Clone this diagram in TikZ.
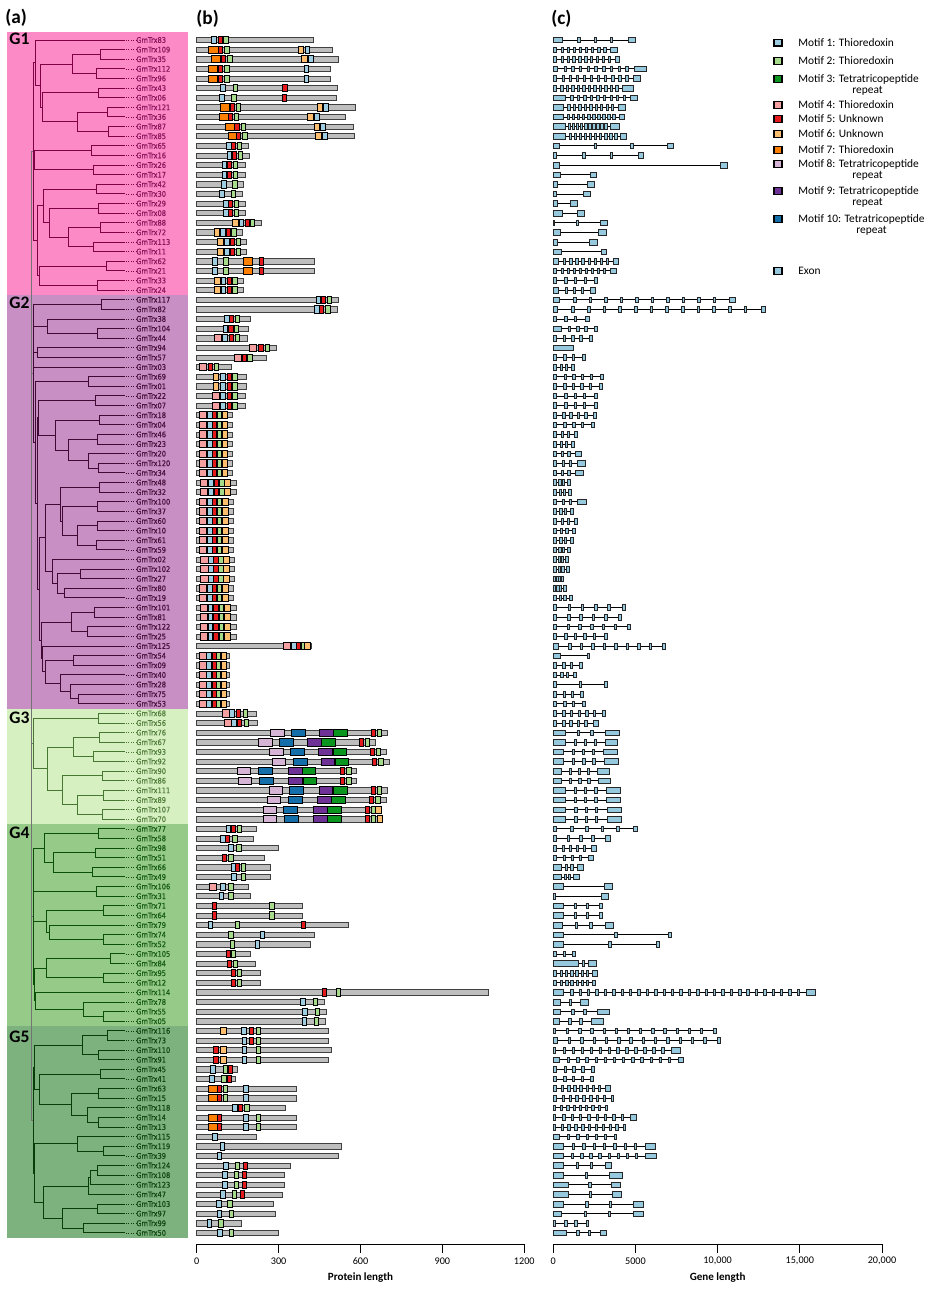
\documentclass[tikz,border=0pt]{standalone}
\usepackage{fontspec}
\setmainfont{Carlito}
\newfontfamily\leaffont[FakeStretch=0.86,FakeBold=0.5]{DejaVu Sans}
\usetikzlibrary{positioning}

% group bands, tree lines, leaf text
\definecolor{gone}{RGB}{251,138,199}
\definecolor{gtwo}{RGB}{200,143,196}
\definecolor{gthree}{RGB}{215,240,193}
\definecolor{gfour}{RGB}{150,202,136}
\definecolor{gfive}{RGB}{125,178,126}
\definecolor{lone}{RGB}{128,0,70}
\definecolor{ltwo}{RGB}{62,10,52}
\definecolor{lthree}{RGB}{70,120,50}
\definecolor{lfour}{RGB}{10,80,10}
\definecolor{lfive}{RGB}{10,60,10}
\definecolor{tone}{RGB}{140,20,90}
\definecolor{ttwo}{RGB}{70,15,60}
\definecolor{tthree}{RGB}{80,125,60}
\definecolor{tfour}{RGB}{20,90,20}
\definecolor{tfive}{RGB}{15,70,15}
% motifs
\definecolor{m1}{RGB}{158,205,226}
\definecolor{m2}{RGB}{166,219,140}
\definecolor{m3}{RGB}{10,150,30}
\definecolor{m4}{RGB}{245,160,160}
\definecolor{m5}{RGB}{228,26,28}
\definecolor{m6}{RGB}{253,191,111}
\definecolor{m7}{RGB}{255,127,0}
\definecolor{m8}{RGB}{214,180,214}
\definecolor{m9}{RGB}{110,50,150}
\definecolor{m10}{RGB}{20,110,170}
\definecolor{exonb}{RGB}{150,200,222}
\definecolor{barg}{RGB}{190,190,190}

% clade: node at x=#1, child (#3,row #2) and child (#5,row #4)
\newcommand{\cl}[5]{\draw[tree] (#3,{40+9.62*(#2)}) -| (#1,{40+9.62*(#4)}) -- (#5,{40+9.62*(#4)});}
% pair of leaves at rows #2, #2+1 joined at x=#1
\newcommand{\lp}[2]{\cl{#1}{#2}{125}{#2+1}{125}}
\newcommand{\br}[3]{\draw[tree] (#1,{40+9.62*(#2)}) -- (#3,{40+9.62*(#2)});}
\newcommand{\vl}[3]{\draw[tree] (#1,{40+9.62*(#2)}) -- (#1,{40+9.62*(#3)});}
\newcommand{\legkey}[4]{%
  \draw[key, fill=#2] (774,{#3-3.3}) rectangle (782,{#3+3.3});
  \node[keytext] (#1) at (798,#3) {#4};}

\begin{document}
\begin{tikzpicture}[x=0.02cm, y=-0.02cm,
    tree/.style={line width=0.55pt},
    leaf/.style={anchor=west, inner sep=0pt, font=\leaffont\fontsize{4.4}{5}\selectfont},
    grp/.style={anchor=west, inner sep=0pt, font=\bfseries\fontsize{10}{12}\selectfont},
    panel/.style={anchor=west, inner sep=0pt, font=\bfseries\fontsize{11}{13}\selectfont},
    bar/.style={draw=black!75, fill=barg, line width=0.35pt},
    mot/.style={draw=black, line width=0.4pt},
    exon/.style={draw=black!85, fill=exonb, line width=0.35pt},
    intron/.style={line width=0.45pt},
    key/.style={draw=black, line width=0.7pt},
    keytext/.style={anchor=west, inner sep=0pt, font=\fontsize{6.5}{8}\selectfont},
    ticklab/.style={inner sep=0pt, font=\fontsize{5.8}{7}\selectfont},
    axtitle/.style={inner sep=0pt, font=\bfseries\fontsize{6.3}{8}\selectfont},
  ]
  \useasboundingbox (0,0) rectangle (937,1289);

  % group bands
  \fill[gone] (7,32) rectangle (188,295);
  \fill[gtwo] (7,295) rectangle (188,708.6);
  \fill[gthree] (7,708.6) rectangle (188,824);
  \fill[gfour] (7,824) rectangle (188,1026);
  \fill[gfive] (7,1026) rectangle (188,1238);

  \node[panel] (pa) at (5,18) {(a)};
  \node[panel] (pb) at (196,19) {(b)};
  \node[panel] (pc) at (551,19) {(c)};
  \node[grp] (G1) at (9,39) {G1};
  \node[grp] (G2) at (9,303) {G2};
  \node[grp] (G3) at (9,718) {G3};
  \node[grp] (G4) at (9,833) {G4};
  \node[grp] (G5) at (9,1037) {G5};

  % root
  \begin{scope}[color=black!55]
    \vl{31}{11.6}{112.28}
    \br{31}{11.6}{33} \br{31}{34.67}{33} \br{31}{73.125}{33} \br{31}{91.1}{33} \br{31}{112.28}{33}
  \end{scope}

  % G1
  \begin{scope}[color=lone]
    \lp{100}{1} \lp{96}{3} \cl{72}{1.5}{100}{3.5}{96}
    \lp{98}{5} \lp{107}{7} \lp{108}{9} \cl{77}{7.5}{107}{9.5}{108} \cl{42}{5.5}{98}{8.5}{77}
    \cl{40}{2.5}{72}{7}{42} \cl{35}{0}{125}{4.75}{40}
    \lp{91}{11} \lp{93}{13} \cl{34}{11.5}{91}{13.5}{93}
    \lp{96}{15} \lp{98}{17} \lp{100}{19} \lp{93}{21}
    \cl{68}{19.5}{100}{21.5}{93} \cl{49}{17.5}{98}{20.5}{68} \cl{43}{15.5}{96}{19}{49}
    \lp{106}{23} \lp{97}{25} \cl{39}{23.5}{106}{25.5}{97} \cl{37}{17.25}{43}{24.5}{39}
    \vl{33}{2.375}{20.875} \br{33}{2.375}{35} \br{33}{12.5}{34} \br{33}{20.875}{37}
    \foreach \nm [count=\i from 0] in {83,109,35,112,96,43,06,121,36,87,85,65,16,26,17,42,30,29,08,88,72,113,11,62,21,33,24}{
      \node[leaf, text=tone] (t\nm) at (136,{40+9.62*\i}) {GmTrx\nm};
      \draw[densely dotted, line width=0.4pt] (126,{40+9.62*\i}) -- (t\nm.west);
    }
  \end{scope}

  % G2
  \begin{scope}[color=ltwo]
    \lp{101}{27}
    \lp{97}{30} \cl{47}{29}{125}{30.5}{97}
    \lp{37}{32}
    \lp{88}{35}
    \lp{95}{37}
    \lp{99}{39} \lp{97}{41} \lp{98}{44}
    \cl{88}{43}{125}{44.5}{98} \cl{68}{41.5}{97}{43.75}{88} \cl{55}{39.5}{99}{42.625}{68}
    \cl{38}{37.5}{95}{41.06}{55}
    \lp{99}{46} \lp{97}{48} \lp{97}{50} \lp{96}{52}
    \cl{77}{50.5}{97}{52.5}{96} \cl{62}{48.5}{97}{51.5}{77} \cl{60}{46.5}{99}{50}{62}
    \lp{80}{55} \lp{64}{57} \cl{57}{55.5}{80}{57.5}{64} \cl{52}{54}{125}{56.5}{57}
    \cl{45}{48.25}{60}{55.25}{52}
    \lp{94}{59} \lp{87}{61} \cl{71}{59.5}{94}{61.5}{87}
    \lp{73}{64} \lp{78}{68} \cl{70}{67}{125}{68.5}{78} \cl{60}{66}{125}{67.75}{70}
    \cl{45}{64.5}{73}{66.875}{60} \cl{42}{63}{125}{65.69}{45}
    \cl{41}{60.5}{71}{64.34}{42}
    \cl{39}{51.75}{45}{62.42}{41}
    \cl{37}{39.28}{38}{57.085}{39}
    \cl{35}{35.5}{88}{48.18}{37}
    \vl{33}{27.5}{41.84} \br{33}{27.5}{101} \br{33}{29.75}{47} \br{33}{32.5}{37} \br{33}{34}{125} \br{33}{41.84}{35}
    \foreach \nm [count=\i from 27] in {117,82,38,104,44,94,57,03,69,01,22,07,18,04,46,23,20,120,34,48,32,100,37,60,10,61,59,02,102,27,80,19,101,81,122,25,125,54,09,40,28,75,53}{
      \node[leaf, text=ttwo] (t\nm) at (136,{40+9.62*\i}) {GmTrx\nm};
      \draw[densely dotted, line width=0.4pt] (126,{40+9.62*\i}) -- (t\nm.west);
    }
  \end{scope}

  % G3
  \begin{scope}[color=lthree]
    \lp{98}{70} \lp{99}{72} \lp{93}{74} \cl{73}{72.5}{99}{74.5}{93}
    \lp{102}{76} \lp{103}{78} \lp{102}{80} \cl{77}{78.5}{103}{80.5}{102} \cl{62}{76.5}{102}{79.5}{77}
    \cl{47}{73.5}{73}{78}{62}
    \cl{33}{70.5}{98}{75.75}{47}
    \foreach \nm [count=\i from 70] in {68,56,76,67,93,92,90,86,111,89,107,70}{
      \node[leaf, text=tthree] (t\nm) at (136,{40+9.62*\i}) {GmTrx\nm};
      \draw[densely dotted, line width=0.4pt] (126,{40+9.62*\i}) -- (t\nm.west);
    }
  \end{scope}

  % G4
  \begin{scope}[color=lfour]
    \lp{98}{82} \lp{95}{84} \lp{92}{86} \cl{53}{84.5}{95}{86.5}{92} \cl{44}{82.5}{98}{85.5}{53}
    \lp{96}{88}
    \lp{103}{90} \lp{103}{93} \cl{49}{92}{125}{93.5}{103} \cl{46}{90.5}{103}{92.75}{49}
    \lp{110}{95} \lp{103}{97} \cl{46}{95.5}{110}{97.5}{103}
    \lp{103}{101} \cl{83}{100}{125}{101.5}{103} \cl{35}{99}{125}{100.75}{83}
    \cl{34}{96.5}{46}{99.875}{35}
    \vl{33}{84}{98.19} \br{33}{84}{44} \br{33}{88.5}{96} \br{33}{91.625}{46} \br{33}{98.19}{34}
    \foreach \nm [count=\i from 82] in {77,58,98,51,66,49,106,31,71,64,79,74,52,105,84,95,12,114,78,55,05}{
      \node[leaf, text=tfour] (t\nm) at (136,{40+9.62*\i}) {GmTrx\nm};
      \draw[densely dotted, line width=0.4pt] (126,{40+9.62*\i}) -- (t\nm.west);
    }
  \end{scope}

  % G5
  \begin{scope}[color=lfive]
    \lp{107}{103} \lp{98}{105} \cl{82}{103.5}{107}{105.5}{98}
    \lp{100}{107} \lp{98}{109} \lp{98}{112} \cl{87}{111}{125}{112.5}{98}
    \cl{71}{109.5}{98}{111.75}{87} \cl{39}{107.5}{100}{110.625}{71}
    \cl{34}{104.5}{82}{109.06}{39}
    \lp{103}{115} \cl{77}{114}{125}{115.5}{103}
    \lp{97}{117} \cl{90}{117.5}{97}{119}{125} \cl{88}{118.25}{90}{120}{125}
    \lp{97}{121} \lp{83}{123} \cl{62}{121.5}{97}{123.5}{83}
    \cl{43}{119.125}{88}{122.5}{62}
    \cl{34}{114.75}{77}{120.81}{43}
    \cl{33}{106.78}{34}{117.78}{34}
    \foreach \nm [count=\i from 103] in {116,73,110,91,45,41,63,15,118,14,13,115,119,39,124,108,123,47,103,97,99,50}{
      \node[leaf, text=tfive] (t\nm) at (136,{40+9.62*\i}) {GmTrx\nm};
      \draw[densely dotted, line width=0.4pt] (126,{40+9.62*\i}) -- (t\nm.west);
    }
  \end{scope}

  % (b) protein length and motifs: row/length/{position/motif}
  \foreach \rw/\len/\mots in {
      0/428/{63/1,86/5,107/2}, 1/496/{61/7,86/5,110/2,382/6,405/1}, 2/518/{71/7,98/5,122/2,394/6,417/1},
      3/489/{58/7,86/5,110/2,402/1}, 4/489/{58/7,86/5,110/2,402/1}, 5/514/{96/1,141/2,323/5},
      6/511/{92/1,136/2,320/5}, 7/580/{104/7,129/5,152/2,451/6,472/1}, 8/543/{100/7,124/5,146/2,416/6,439/1},
      9/572/{123/7,147/5,170/2,440/6,461/1}, 10/576/{134/7,154/5,176/2,445/6,469/1},
      11/189/{117/1,135/5,157/2}, 12/193/{119/1,139/5,160/2}, 13/178/{101/1,120/5,142/2},
      14/178/{101/1,120/5,142/2}, 15/171/{99/1,140/2}, 16/167/{93/1,135/2},
      17/178/{106/1,124/5,146/2}, 18/178/{106/1,124/5,146/2}, 19/236/{142/6,164/1,184/5,205/2},
      20/167/{73/6,96/1,117/5,136/2}, 21/182/{87/6,110/1,129/5,152/2}, 22/182/{87/6,110/1,129/5,152/2},
      23/431/{66/1,107/2,188/7,236/5}, 24/431/{66/1,107/2,188/7,236/5},
      25/171/{76/6,98/1,118/5,140/2}, 26/171/{76/6,98/1,118/5,140/2},
      27/520/{445/1,463/5,486/2}, 28/516/{440/1,458/5,480/2},
      29/195/{110/1,128/5,150/2}, 30/190/{105/1,125/5,146/2}, 31/185/{78/4,103/1,128/5,150/2},
      32/290/{205/4,235/5,258/2}, 33/255/{150/4,175/5,195/2}, 34/125/{22/4,50/5,72/2},
      35/180/{70/6,95/1,118/5,140/2}, 36/180/{70/6,95/1,118/5,140/2},
      37/178/{70/4,95/1,118/5,140/2}, 38/178/{70/4,95/1,118/5,140/2},
      39/132/{22/4,47/1,65/5,84/2,103/6}, 40/132/{22/4,47/1,65/5,84/2,103/6},
      41/130/{22/4,47/1,65/5,84/2,103/6}, 42/130/{22/4,47/1,65/5,84/2,103/6},
      43/132/{22/4,47/1,65/5,84/2,103/6}, 44/132/{22/4,47/1,65/5,84/2,103/6},
      45/130/{22/4,47/1,65/5,84/2,103/6},
      46/145/{25/4,52/1,72/5,92/2,113/6}, 47/145/{25/4,52/1,72/5,92/2,113/6},
      48/135/{22/4,47/1,65/5,84/2,105/6}, 49/135/{22/4,47/1,65/5,84/2,105/6},
      50/135/{22/4,47/1,65/5,84/2,105/6}, 51/135/{22/4,47/1,65/5,84/2,105/6},
      52/135/{22/4,47/1,65/5,84/2,105/6}, 53/135/{22/4,47/1,65/5,84/2,105/6},
      54/138/{28/4,52/1,70/5,89/2,108/6}, 55/138/{28/4,52/1,70/5,89/2,108/6},
      56/138/{28/4,52/1,70/5,89/2,108/6}, 57/135/{22/4,47/1,65/5,84/2,105/6},
      58/135/{22/4,47/1,65/5,84/2,105/6},
      59/145/{25/4,50/1,70/5,90/2,112/6}, 60/145/{25/4,50/1,70/5,90/2,112/6},
      61/145/{25/4,50/1,70/5,90/2,112/6}, 62/145/{25/4,50/1,70/5,90/2,112/6},
      63/418/{330/4,357/1,372/5,390/2,405/6},
      64/120/{22/4,45/1,63/5,80/2,99/6}, 65/120/{22/4,45/1,63/5,80/2,99/6},
      66/120/{22/4,45/1,63/5,80/2,99/6}, 67/120/{22/4,45/1,63/5,80/2,99/6},
      68/120/{22/4,45/1,63/5,80/2,99/6}, 69/118/{22/4,45/1,63/5,80/2,99/6},
      70/217/{106/4,129/1,152/5,178/2}, 71/222/{113/4,136/1,156/5,182/2},
      72/698/{295/8,372/10,476/9,527/3,646/5,669/2}, 73/654/{251/8,328/10,432/9,483/3,603/5,625/2},
      74/694/{292/8,368/10,471/9,524/3,642/5,665/2}, 75/706/{301/8,378/10,481/9,532/3,652/5,674/2},
      76/585/{173/8,251/10,361/9,411/3,533/5,557/2}, 77/585/{177/8,254/10,361/9,414/3,535/5,557/2},
      78/698/{289/8,366/10,473/9,526/3,646/5,669/2}, 79/694/{283/8,361/10,468/9,519/3,641/5,663/2},
      80/676/{268/8,344/10,452/9,504/3,625/5,646/2,666/6}, 81/681/{268/8,347/10,454/9,505/3,626/5,648/2,670/6},
      82/220/{116/1,134/5,157/2}, 83/206/{95/1,112/5,140/2}, 84/298/{125/1,155/2},
      85/247/{100/5,125/2}, 86/268/{135/1,150/5,170/2}, 87/268/{135/1,172/2},
      88/188/{60/4,95/1,125/2}, 89/195/{90/1,125/2}, 90/386/{65/5,275/2}, 91/386/{65/5,275/2},
      92/554/{50/1,150/2,390/5}, 93/431/{125/2,240/1}, 94/415/{130/2,222/1},
      95/195/{115/5,135/2}, 96/215/{119/5,141/2}, 97/232/{135/5,157/2}, 98/232/{135/5,157/2},
      99/1068/{466/5,518/2}, 100/467/{388/1,434/2}, 101/475/{395/1,442/2}, 102/471/{394/1,438/2},
      103/482/{98/6,173/1,201/5,225/2}, 104/482/{174/1,201/5,225/2},
      105/493/{70/5,98/6,174/1,225/2}, 106/482/{70/5,98/6,174/1,225/2},
      107/149/{60/1,104/2,124/5}, 108/142/{55/1,99/2,120/5},
      109/365/{59/7,83/5,105/2,179/1}, 110/365/{59/7,83/5,105/2,179/1},
      111/325/{139/1,161/5,184/2}, 112/365/{59/7,83/5,179/1,225/2}, 113/365/{59/7,83/5,179/1,225/2},
      114/219/{67/1}, 115/530/{94/1}, 116/519/{83/1},
      117/343/{106/1,149/2,179/5}, 118/321/{104/1,146/2,176/5}, 119/321/{104/1,146/2,176/5},
      120/314/{95/1,138/2,168/5}, 121/281/{80/1,122/2}, 122/288/{83/1,127/2},
      123/163/{46/1,88/2}, 124/299/{84/1,127/2}}{
    \pgfmathsetmacro\yy{40+9.62*\rw}
    \draw[bar] (196.7,{\yy-2.6}) rectangle ++({0.273*\len},5.2);
    \foreach \mpos/\mtyp in \mots {
      \pgfmathsetmacro\mw{{17,16,50,26,15,20,33,49,50,51}[\mtyp-1]}
      \draw[mot, fill=m\mtyp] ({196.7+0.273*(\mpos-\mw/2)},{\yy-3.6}) rectangle ++({0.273*\mw},7.2);
    }
  }

  % (c) gene structure: row/kb/exons/first exon/last exon
  \foreach \rw/\kb/\nx/\fa/\fb in {
      0/4.97/5/9/7, 1/3.92/10/3/7, 2/4.0/11/3/4, 3/5.68/11/4/12, 4/5.32/12/3/7,
      5/4.87/13/3/11, 6/5.13/11/12/7, 7/4.36/11/10/7, 8/4.30/12/10/5, 9/4.00/12/12/9,
      10/4.47/12/12/6, 11/7.33/4/6/6, 12/5.48/4/3/5, 13/10.61/2/6/7, 14/2.64/2/7/6,
      15/2.50/2/4/7, 16/2.28/2/3/7, 17/1.46/2/4/7, 18/1.89/2/9/7, 19/3.31/3/1/7,
      20/3.25/2/7/8, 21/2.68/2/4/8, 22/3.25/2/8/5, 23/3.98/10/5/5, 24/3.83/10/3/6,
      25/2.70/5/3/3, 26/2.54/5/5/5, 27/11.1/12/6/6, 28/12.88/14/4/4, 29/2.17/4/3/4,
      30/2.66/5/8/3, 31/2.35/5/3/3, 32/1.20/1/0/0, 33/1.93/4/3/3, 34/1.26/4/3/3,
      35/3.02/6/3/3, 36/2.96/6/3/3, 37/2.66/5/3/3, 38/2.66/5/3/3, 39/2.60/6/3/3,
      40/2.48/5/3/3, 41/1.44/4/3/3, 42/1.26/4/3/3, 43/1.69/4/3/6, 44/1.93/4/3/8,
      45/1.81/4/3/8, 46/1.02/4/3/3, 47/1.08/4/3/3, 48/1.99/4/3/9, 49/1.20/4/3/3,
      50/1.44/4/3/3, 51/1.32/4/3/3, 52/1.20/4/3/3, 53/1.02/4/3/3, 54/0.89/4/3/3,
      55/0.96/4/3/3, 56/0.59/4/2/2, 57/0.77/4/2/3, 58/1.14/4/3/3, 59/4.36/6/3/3,
      60/4.12/6/3/3, 61/4.67/7/3/3, 62/3.27/6/3/3, 63/6.80/10/5/3, 64/2.17/2/7/2,
      65/1.75/4/3/3, 66/1.38/4/3/3, 67/3.27/3/3/3, 68/1.81/4/3/3, 69/1.93/4/3/3,
      70/3.15/7/3/3, 71/2.72/6/3/5, 72/4.00/4/12/14, 73/3.88/5/12/12, 74/3.88/5/10/14,
      75/3.95/5/10/14, 76/3.40/5/8/12, 77/3.45/5/8/12, 78/4.05/5/12/14, 79/4.05/5/12/14,
      80/4.12/5/12/14, 81/4.12/5/12/14, 82/5.09/6/3/4, 83/3.45/5/3/5, 84/2.60/6/3/5,
      85/2.42/5/3/5, 86/1.81/4/8/6, 87/1.56/4/8/6, 88/3.57/2/10/8, 89/3.33/2/2/7,
      90/2.96/4/10/3, 91/2.96/4/10/3, 92/3.63/4/9/8, 93/7.16/3/10/3, 94/6.43/3/10/3,
      95/1.32/3/3/3, 96/2.64/3/25/8, 97/2.68/8/3/5, 98/2.58/8/3/3, 99/15.97/30/10/9,
      100/2.13/3/7/8, 101/3.41/4/7/12, 102/3.04/4/6/12, 103/9.94/14/2/3, 104/10.14/14/4/3,
      105/7.75/14/2/9, 106/7.93/14/6/5, 107/2.50/5/3/3, 108/2.46/5/3/3, 109/3.49/9/3/5,
      110/3.65/9/3/2, 111/3.29/9/2/2, 112/5.07/10/2/6, 113/4.41/11/2/2, 114/3.86/7/6/2,
      115/6.23/9/10/10, 116/6.29/10/10/11, 117/3.51/4/10/6, 118/4.22/3/10/13, 119/4.06/3/15/9,
      120/4.12/3/15/9, 121/5.50/4/10/10, 122/5.50/4/8/10, 123/2.13/4/2/2, 124/3.25/4/13/6}{
    \pgfmathsetmacro\yy{40+9.62*\rw}
    \pgfmathsetmacro\glen{16.435*\kb}
    \draw[intron] (553.3,\yy) -- ++(\glen,0);
    \ifnum\nx=1
      \draw[exon] (553.3,{\yy-2.8}) rectangle ++(\glen,5.6);
    \else
      \draw[exon] (553.3,{\yy-2.8}) rectangle ++(\fa,5.6);
      \draw[exon] ({553.3+\glen-\fb},{\yy-2.8}) rectangle ++(\fb,5.6);
      \ifnum\nx>2
        \pgfmathtruncatemacro\inner{\nx-2}
        \foreach \k in {1,...,\inner}{
          \draw[exon] ({553.3+\fa+(\glen-\fa-\fb)*\k/(\nx-1)-1.2},{\yy-2.8}) rectangle ++(2.4,5.6);
        }
      \fi
    \fi
  }

  % axes
  \draw[line width=0.4pt] (196.7,1244) -- (524.3,1244);
  \foreach \v [count=\j] in {0,300,600,900,1200}{
    \draw[line width=0.4pt] ({196.7+0.273*\v},1244) -- ({196.7+0.273*\v},1253);
    \node[ticklab] (pt\j) at ({196.7+0.273*\v},1261) {\v};
  }
  \node[axtitle] (ptitle) at (360.5,1278) {Protein length};
  \draw[line width=0.4pt] (553.3,1244) -- (882,1244);
  \foreach \v/\s [count=\j] in {0/0,5/5000,10/{10,000},15/{15,000},20/{20,000}}{
    \draw[line width=0.4pt] ({553.3+16.435*\v},1244) -- ({553.3+16.435*\v},1253);
    \node[ticklab] (gt\j) at ({553.3+16.435*\v},1261) {\s};
  }
  \node[axtitle] (gtitle) at (717.7,1278) {Gene length};

  % legend
  \legkey{k1}{m1}{42.7}{Motif 1: Thioredoxin}
  \legkey{k2}{m2}{61}{Motif 2: Thioredoxin}
  \legkey{k3}{m3}{79}{Motif 3: Tetratricopeptide}
  \node[keytext] (k3r) at (852,90.5) {repeat};
  \legkey{k4}{m4}{105}{Motif 4: Thioredoxin}
  \legkey{k5}{m5}{119}{Motif 5: Unknown}
  \legkey{k6}{m6}{134}{Motif 6: Unknown}
  \legkey{k7}{m7}{150}{Motif 7: Thioredoxin}
  \legkey{k8}{m8}{164}{Motif 8: Tetratricopeptide}
  \node[keytext] (k8r) at (852,175.5) {repeat};
  \legkey{k9}{m9}{191}{Motif 9: Tetratricopeptide}
  \node[keytext] (k9r) at (852,202.5) {repeat};
  \legkey{k10}{m10}{219}{Motif 10: Tetratricopeptide}
  \node[keytext] (k10r) at (856,230.5) {repeat};
  \legkey{kex}{exonb}{271}{Exon}
\end{tikzpicture}
\end{document}
